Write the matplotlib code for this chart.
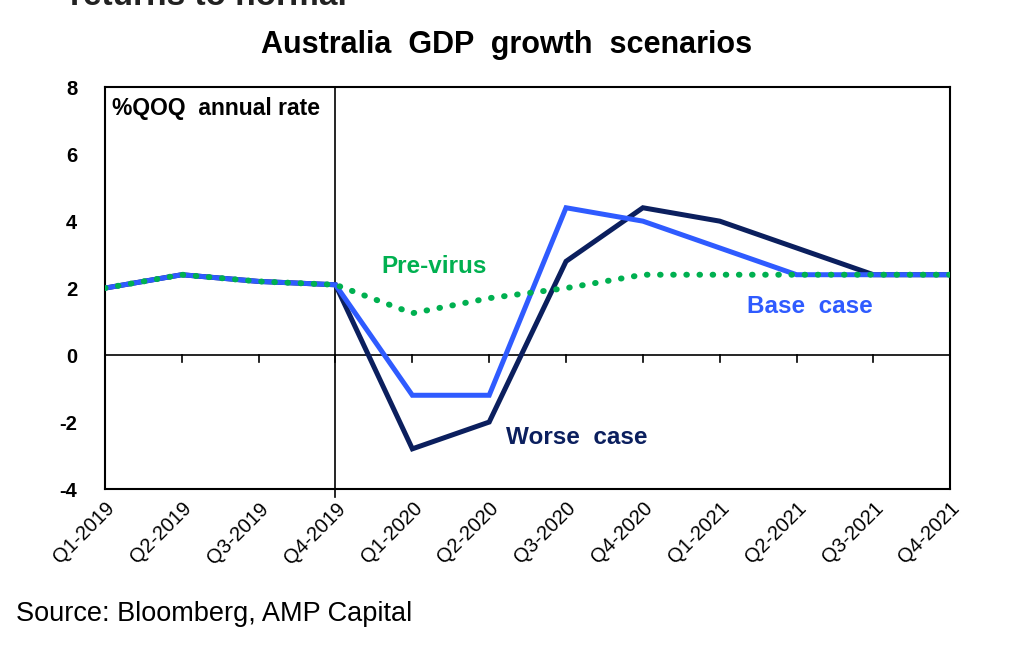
import matplotlib.pyplot as plt
import numpy as np

plt.rcParams['font.family'] = ['Liberation Sans', 'DejaVu Sans']

# Data
quarters = ['Q1-2019', 'Q2-2019', 'Q3-2019', 'Q4-2019', 'Q1-2020', 'Q2-2020',
            'Q3-2020', 'Q4-2020', 'Q1-2021', 'Q2-2021', 'Q3-2021', 'Q4-2021']
pre_virus = [2.0, 2.4, 2.2, 2.1, 1.25, 1.7, 2.0, 2.4, 2.4, 2.4, 2.4, 2.4]
base_case = [2.0, 2.4, 2.2, 2.1, -1.2, -1.2, 4.4, 4.0, 3.2, 2.4, 2.4, 2.4]
worse_case = [2.0, 2.4, 2.2, 2.1, -2.8, -2.0, 2.8, 4.4, 4.0, 3.2, 2.4, 2.4]

navy = '#0b1f5e'
blue = '#2f5bff'
green = '#00b050'

fig = plt.figure(figsize=(10.24, 6.46), dpi=100)
ax = fig.add_axes([0.1025, 0.243, 0.8255, 0.622])

x = np.arange(len(quarters))

ax.plot(x, worse_case, color=navy, lw=3.6, solid_joinstyle='miter', zorder=3)
ax.plot(x, base_case, color=blue, lw=3.6, solid_joinstyle='miter', zorder=4)
ax.plot(x, pre_virus, color=green, lw=4.3, linestyle=(0, (0.1, 2.1)),
        dash_capstyle='round', zorder=5)

ax.set_xlim(0, len(quarters) - 1)
ax.set_ylim(-4, 8)
ax.set_yticks([-4, -2, 0, 2, 4, 6, 8])
ax.set_yticklabels(['-4', '-2', '0', '2', '4', '6', '8'], fontsize=14.5, fontweight='bold')
ax.tick_params(axis='y', length=0, pad=20)

# x ticks hang off the zero line, labels at the bottom
ax.set_xticks(x)
ax.set_xticklabels(quarters, rotation=45, ha='right', rotation_mode='anchor', fontsize=14.5)
ax.tick_params(axis='x', length=0, pad=7)
for xi in x:
    ax.plot([xi, xi], [0, -0.2], color='black', lw=1.2, clip_on=False, zorder=2)
ax.axhline(0, color='black', lw=1.2, zorder=2)

for s in ax.spines.values():
    s.set_linewidth(1.5)

# divider at Q4-2019
ax.plot([3, 3], [8, -4.25], color='black', lw=1.2, clip_on=False, zorder=2)

ax.text(0.09, 7.35, '%QOQ  annual rate', fontsize=16.5, fontweight='bold', va='center')
ax.text(3.6, 2.65, 'Pre-virus', color=green, fontsize=17.5, fontweight='bold', va='center')
ax.text(8.35, 1.45, 'Base  case', color=blue, fontsize=17.5, fontweight='bold', va='center')
ax.text(5.22, -2.45, 'Worse  case', color=navy, fontsize=17.5, fontweight='bold', va='center')

fig.text(0.495, 0.930, 'Australia  GDP  growth  scenarios', ha='center', va='center',
         fontsize=22, fontweight='bold')
fig.text(0.068, 1.006, 'returns to normal', ha='left', va='center', fontsize=24,
         fontweight='bold', color='#222222')
fig.text(0.016, 0.05, 'Source: Bloomberg, AMP Capital', ha='left', va='center', fontsize=19.5)

fig.savefig('out.png', dpi=100)
